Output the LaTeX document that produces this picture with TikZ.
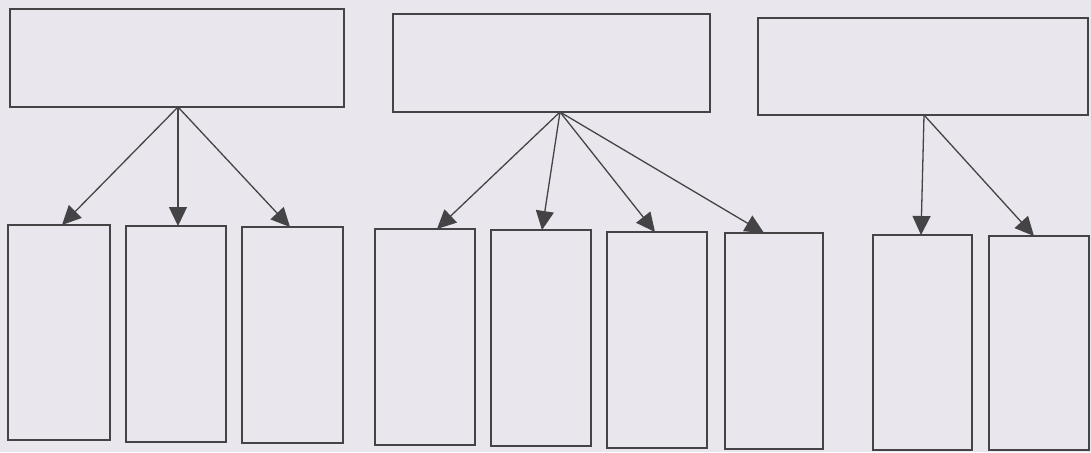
\documentclass[tikz,border=0pt]{standalone}
\usetikzlibrary{arrows.meta}
\definecolor{paper}{HTML}{E9E7ED}
\definecolor{ink}{HTML}{444447}
\begin{document}
\begin{tikzpicture}[x=1pt,y=-1pt,
  box/.style={draw=ink, line width=1.8pt, inner sep=0pt, outer sep=0pt},
  arr/.style={draw=ink, line width=1.3pt, -{Triangle[length=19pt,width=18pt]}}]
\fill[paper] (0,0) rectangle (1091,452);
\useasboundingbox (0,0) rectangle (1091,452);
% top boxes
\node[box, minimum width=334pt, minimum height=98pt] (t1) at (177,58) {};
\node[box, minimum width=317pt, minimum height=98pt] (t2) at (551.5,63) {};
\node[box, minimum width=330pt, minimum height=97pt] (t3) at (923,66.5) {};
% lower boxes
\node[box, minimum width=102pt, minimum height=215pt] (b1) at (59,332.5) {};
\node[box, minimum width=100pt, minimum height=216pt] (b2) at (176,334) {};
\node[box, minimum width=101pt, minimum height=216pt] (b3) at (292.5,335) {};
\node[box, minimum width=100pt, minimum height=216pt] (b4) at (425,337) {};
\node[box, minimum width=100pt, minimum height=216pt] (b5) at (541,338) {};
\node[box, minimum width=100pt, minimum height=216pt] (b6) at (657,340) {};
\node[box, minimum width=98pt, minimum height=216pt] (b7) at (774,341) {};
\node[box, minimum width=99pt, minimum height=215pt] (b8) at (922.5,342.5) {};
\node[box, minimum width=100pt, minimum height=214pt] (b9) at (1039,343) {};
% connectors
\draw[arr] ([xshift=1pt]t1.south) -- ([xshift=3pt]b1.north);
\draw[arr] ([xshift=1pt]t1.south) -- ([xshift=2pt]b2.north);
\draw[arr] ([xshift=1pt]t1.south) -- ([xshift=-2.5pt]b3.north);
\draw[arr] ([xshift=8.5pt]t2.south) -- ([xshift=12pt]b4.north);
\draw[arr] ([xshift=8.5pt]t2.south) -- ([xshift=1pt]b5.north);
\draw[arr] ([xshift=8.5pt]t2.south) -- ([xshift=-2pt]b6.north);
\draw[arr] ([xshift=8.5pt]t2.south) -- ([xshift=-10pt]b7.north);
\draw[arr] ([xshift=1pt]t3.south) -- ([xshift=-1.5pt]b8.north);
\draw[arr] ([xshift=1pt]t3.south) -- ([xshift=-5pt]b9.north);
\end{tikzpicture}
\end{document}
